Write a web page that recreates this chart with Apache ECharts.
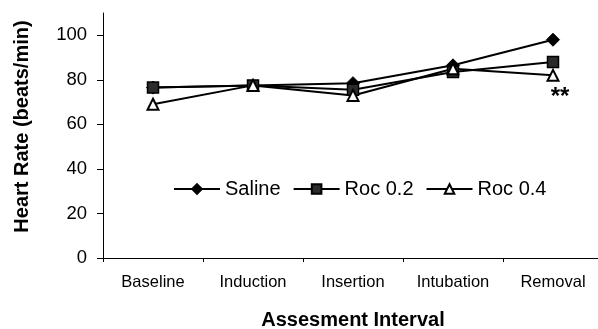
<!DOCTYPE html>
<html>
<head>
<meta charset="utf-8">
<script src="https://cdn.jsdelivr.net/npm/echarts@6/dist/echarts.min.js"></script>
<style>
html,body{margin:0;padding:0;background:#fff;}
#chart{width:598px;height:329px;}
</style>
</head>
<body>
<div id="chart"></div>
<script>
const categories = ['Baseline', 'Induction', 'Insertion', 'Intubation', 'Removal'];
const saline = [76.5, 77.5, 78.5, 86.5, 98];
const roc02 = [76.5, 77.5, 75.5, 83.5, 88];
const roc04 = [69, 77.5, 73, 85, 82];
const yTicks = [0, 20, 40, 60, 80, 100];
const seriesNames = ['Saline', 'Roc 0.2', 'Roc 0.4'];
const annotation = '**';

const FONT = '"Liberation Sans", Arial, sans-serif';
const chart = echarts.init(document.getElementById('chart'), null, {renderer: 'canvas'});

const roc04Data = roc04.map((v, i) => i === roc04.length - 1 ? {
  value: v,
  label: {
    show: true, position: 'bottom', formatter: annotation,
    fontSize: 24, fontWeight: 'bold', fontFamily: FONT, color: '#000', distance: 2, offset: [7, 2]
  }
} : v);

chart.setOption({
  animation: false,
  backgroundColor: '#fff',
  grid: {left: 103, right: -5, top: 13, bottom: 71, containLabel: false, outerBoundsMode: 'none'},
  legend: {
    left: 173, top: 179, padding: 0,
    itemWidth: 46, itemHeight: 12, itemGap: 12,
    textStyle: {fontSize: 20, fontFamily: FONT, color: '#000'},
    data: seriesNames
  },
  xAxis: {
    type: 'category',
    data: categories,
    boundaryGap: true,
    name: 'Assesment Interval',
    nameLocation: 'middle',
    nameGap: 52,
    nameTextStyle: {fontSize: 20, fontWeight: 'bold', fontFamily: FONT, color: '#000'},
    axisLine: {lineStyle: {color: '#000', width: 1}},
    axisTick: {show: true, length: 4, lineStyle: {color: '#000'}},
    axisLabel: {fontSize: 16.5, fontFamily: FONT, color: '#000', margin: 16},
    splitLine: {show: false}
  },
  yAxis: {
    type: 'value',
    min: 0, max: 110, interval: 20,
    name: 'Heart Rate (beats/min)',
    nameLocation: 'middle',
    nameGap: 71,
    nameRotate: 90,
    nameTextStyle: {fontSize: 20, fontWeight: 'bold', fontFamily: FONT, color: '#000', padding: [0, 0, 0, 18]},
    axisLine: {show: true, lineStyle: {color: '#000', width: 1}},
    axisTick: {show: true, length: 6, lineStyle: {color: '#000'}, customValues: yTicks},
    axisLabel: {
      fontSize: 18.5, fontFamily: FONT, color: '#000', margin: 16,
      customValues: yTicks,
      formatter: v => (yTicks.indexOf(v) >= 0 ? String(v) : '')
    },
    splitLine: {show: false}
  },
  series: [
    {
      name: seriesNames[0], type: 'line', data: saline,
      symbol: 'diamond', symbolSize: 13,
      lineStyle: {color: '#000', width: 2},
      itemStyle: {color: '#000', borderColor: '#000', borderWidth: 1}
    },
    {
      name: seriesNames[1], type: 'line', data: roc02,
      symbol: 'rect', symbolSize: 11,
      lineStyle: {color: '#000', width: 2},
      itemStyle: {color: '#2b2b2b', borderColor: '#000', borderWidth: 1.5}
    },
    {
      name: seriesNames[2], type: 'line', data: roc04Data,
      symbol: 'triangle', symbolSize: 11,
      lineStyle: {color: '#000', width: 2},
      itemStyle: {color: '#fff', borderColor: '#000', borderWidth: 2}
    }
  ]
});
</script>
</body>
</html>
